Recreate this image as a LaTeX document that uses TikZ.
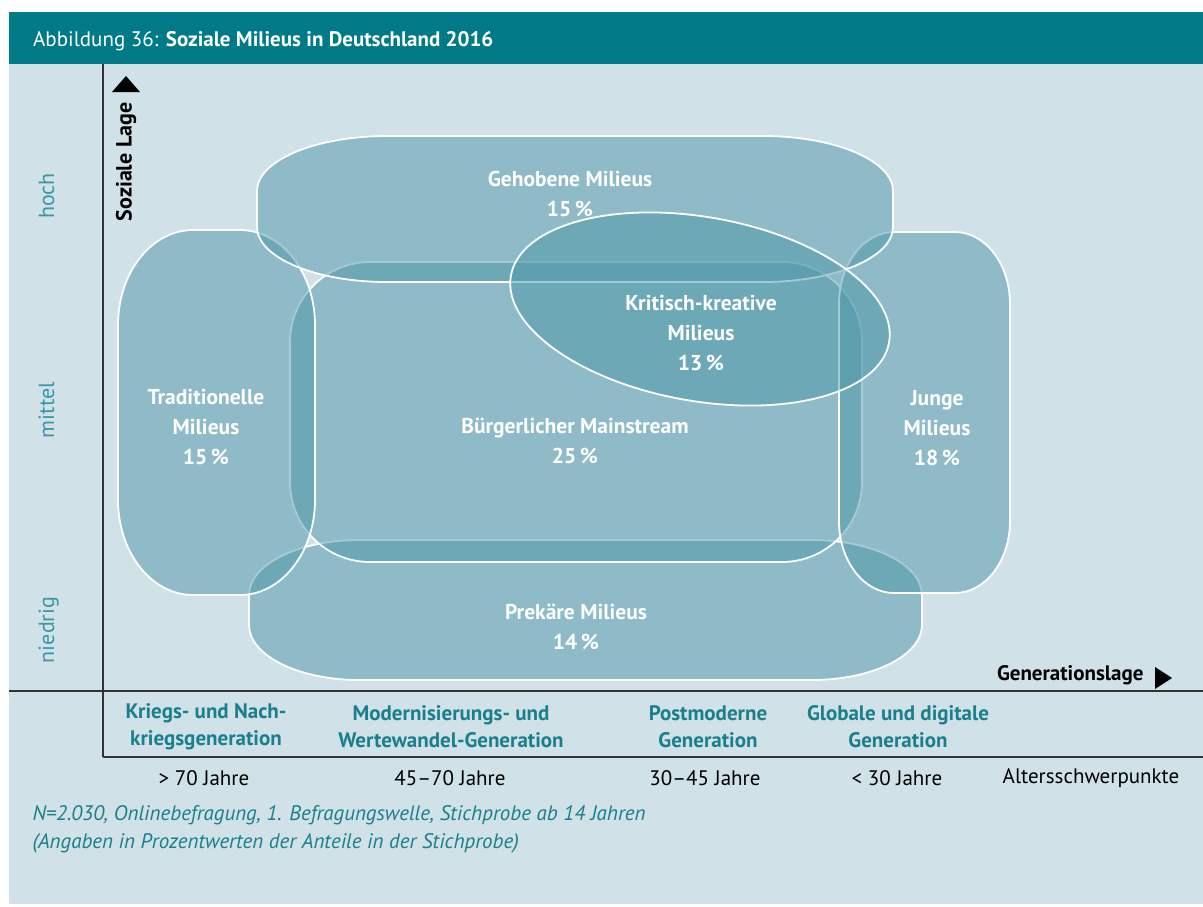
\documentclass[tikz,border=0pt]{standalone}
\usepackage{fontspec}
\setmainfont{PT Sans}
\usepackage{tikz}
\usetikzlibrary{positioning}
\definecolor{petrol}{HTML}{007A87}
\definecolor{hell}{HTML}{D0E1E7}
\definecolor{milieublau}{HTML}{4E97A9}
\definecolor{gentuerkis}{HTML}{1A7F8C}
\definecolor{lagetuerkis}{HTML}{3A97A5}
\definecolor{achsgrau}{HTML}{333333}
\tikzstyle{milieu} = [draw=white,line width=1.8pt,fill=milieublau,fill opacity=0.5]
\tikzstyle{mtext} = [text=white,align=center,font=\fontsize{21.5}{30}\selectfont\bfseries]
\tikzstyle{achse} = [draw=achsgrau,line width=1.3pt]
\tikzstyle{gen} = [text=gentuerkis,align=center,font=\fontsize{21}{27}\selectfont\bfseries]
\tikzstyle{alter} = [font=\fontsize{21}{24}\selectfont]
\tikzstyle{lage} = [text=lagetuerkis,rotate=90,anchor=base,font=\fontsize{22}{24}\selectfont]
% x1 y1 x2 y2 rx ry
\newcommand{\milieuform}[6]{%
	\draw[milieu] (#1+#5,#2) -- (#3-#5,#2)
		arc[start angle=-90,end angle=0,x radius=#5,y radius=#6] -- (#3,#4-#6)
		arc[start angle=0,end angle=90,x radius=#5,y radius=#6] -- (#1+#5,#4)
		arc[start angle=90,end angle=180,x radius=#5,y radius=#6] -- (#1,#2+#6)
		arc[start angle=180,end angle=270,x radius=#5,y radius=#6] -- cycle;}

\begin{document}
\begin{tikzpicture}[x=1pt,y=-1pt]
	\useasboundingbox (0,0) rectangle (1203,906);
	% Hintergrund und Kopf
	\fill[hell] (9,64) rectangle (1203,904);
	\fill[petrol] (9,12) rectangle (1203,64);
	\node[anchor=base west,text=white,inner sep=0pt,font=\fontsize{21}{24}\selectfont] (titel) at (33,46) {Abbildung 36: \textbf{Soziale Milieus in Deutschland 2016}};

	% Milieus
	\milieuform{249}{540}{922}{680}{110}{55}
	\milieuform{290}{262}{862}{562}{80}{80}
	\milieuform{118}{230}{315}{595}{75}{95}
	\milieuform{839}{232}{1010}{593}{55}{72}
	\milieuform{257}{136}{893}{282}{130}{55}
	\draw[milieu,rotate around={-10:(700,309)}] (700,309) ellipse [x radius=192,y radius=92];

	\node[mtext] (gehoben) at (570,194) {Gehobene Milieus\\15\,\%};
	\node[mtext] (kritisch) at (701,333) {Kritisch-kreative\\Milieus\\13\,\%};
	\node[mtext] (tradition) at (206,427) {Traditionelle\\Milieus\\15\,\%};
	\node[mtext] (mainstream) at (575,441) {Bürgerlicher Mainstream\\25\,\%};
	\node[mtext] (junge) at (937,428) {Junge\\Milieus\\18\,\%};
	\node[mtext] (prekaer) at (576,627) {Prekäre Milieus\\14\,\%};

	% Achsen
	\coordinate (yoben) at (103,64);
	\coordinate (yunten) at (103,757);
	\coordinate (xlinks) at (9,691);
	\coordinate (xrechts) at (1203,691);
	\coordinate (urechts) at (1203,757);
	\draw[achse] (yoben) -- (yunten);
	\draw[achse] (xlinks) -- (xrechts);
	\draw[achse] (yunten) -- (urechts);
	\fill (112,92) -- (126,76) -- (140,92) -- cycle;
	\fill (1155,667) -- (1172,678) -- (1155,689) -- cycle;
	\node[rotate=90,font=\fontsize{22}{24}\selectfont\bfseries] (soziallage) at (126,162) {Soziale Lage};
	\node[anchor=east,font=\fontsize{21}{24}\selectfont\bfseries] (genlage) at (1147,675) {Generationslage};

	\node[lage] (hoch) at (54,196) {hoch};
	\node[lage] (mittel) at (54,410) {mittel};
	\node[lage] (niedrig) at (54,630) {niedrig};

	% Generationen und Alter
	\foreach \x/\txt [count=\i] in {206/{Kriegs- und Nach-\\kriegsgeneration},451/{Modernisierungs- und\\Wertewandel-Generation},708/{Postmoderne\\Generation},898/{Globale und digitale\\Generation}} {
		\node[gen] (gen\i) at (\x,727) {\txt};
	}
	\foreach \x/\txt [count=\i] in {204/{> 70 Jahre},450/{45--70 Jahre},705/{30--45 Jahre},897/{< 30 Jahre},1091/{Altersschwerpunkte}} {
		\node[alter] (alter\i) at (\x,778) {\txt};
	}

	% Fussnote
	\node[anchor=west,text=gentuerkis,font=\fontsize{21}{28}\selectfont\itshape] (fuss1) at (29,815) {N=2.030, Onlinebefragung, 1. Befragungswelle, Stichprobe ab 14 Jahren};
	\node[anchor=west,text=gentuerkis,font=\fontsize{21}{28}\selectfont\itshape] (fuss2) at (29,843) {(Angaben in Prozentwerten der Anteile in der Stichprobe)};
\end{tikzpicture}
\end{document}
